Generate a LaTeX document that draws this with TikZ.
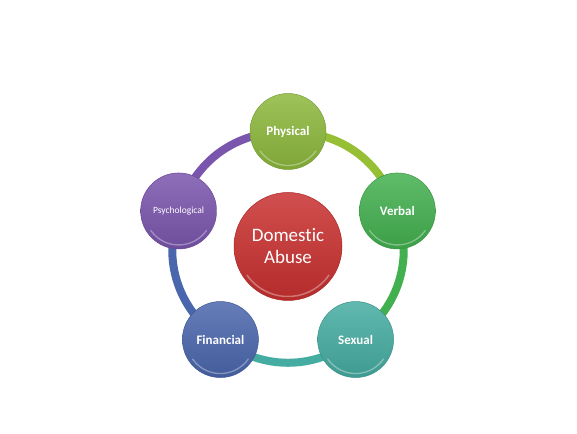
\documentclass[tikz,border=0pt]{standalone}
\usepackage{fontspec}
\setmainfont{Carlito}[Ligatures={NoCommon,NoRare}]
\usetikzlibrary{backgrounds,calc}
\definecolor{physgreen}{HTML}{8CB83C}
\definecolor{verbgreen}{HTML}{43B04F}
\definecolor{sexteal}{HTML}{45ACA1}
\definecolor{finblue}{HTML}{4A66AC}
\definecolor{psypurple}{HTML}{7A55AD}
\definecolor{abusered}{HTML}{C8302F}
\begin{document}
\begin{tikzpicture}[x=1pt,y=1pt,line cap=round,
  ball/.style={circle,minimum size=76pt,inner sep=0pt,text=white,
    top color=#1!85!white,bottom color=#1!90!black,draw=#1!85!black,line width=0.5pt,
    font=\bfseries\fontsize{13}{15}\selectfont,
    path picture={\draw[white,opacity=.35,line width=1.3pt]
      ([shift={(-145:34)}]path picture bounding box.center) arc (-145:-35:34);}},
  ring/.style={draw=#1,line width=8pt,line cap=butt}]
  \useasboundingbox (0,0) rectangle (577,433);
  \coordinate (mid) at (288,186.5);
  \node[ball=abusered,minimum size=108pt,font=\fontsize{19}{22}\selectfont,align=center,
    path picture={\draw[white,opacity=.35,line width=1.5pt]
      ([shift={(-145:50)}]path picture bounding box.center) arc (-145:-35:50);}]
    (abuse) at (mid) {Domestic\\Abuse};
  \node[ball=physgreen] (phys) at ($(mid)+(90:115)$) {Physical};
  \node[ball=verbgreen] (verb) at ($(mid)+(18:115)$) {Verbal};
  \node[ball=sexteal] (sex) at ($(mid)+(-54:115)$) {Sexual};
  \node[ball=finblue] (fin) at ($(mid)+(-126:115)$) {Financial};
  \node[ball=psypurple,font=\fontsize{9.5}{11}\selectfont] (psy) at ($(mid)+(162:115)$) {Psychological};
  \begin{scope}[on background layer]
    \draw[ring=physgreen!90!yellow] (phys.center) to[bend left=36] (verb.center);
    \draw[ring=verbgreen] (verb.center) to[bend left=36] (sex.center);
    \draw[ring=sexteal] (sex.center) to[bend left=36] (fin.center);
    \draw[ring=finblue] (fin.center) to[bend left=36] (psy.center);
    \draw[ring=psypurple] (psy.center) to[bend left=36] (phys.center);
  \end{scope}
\end{tikzpicture}
\end{document}
